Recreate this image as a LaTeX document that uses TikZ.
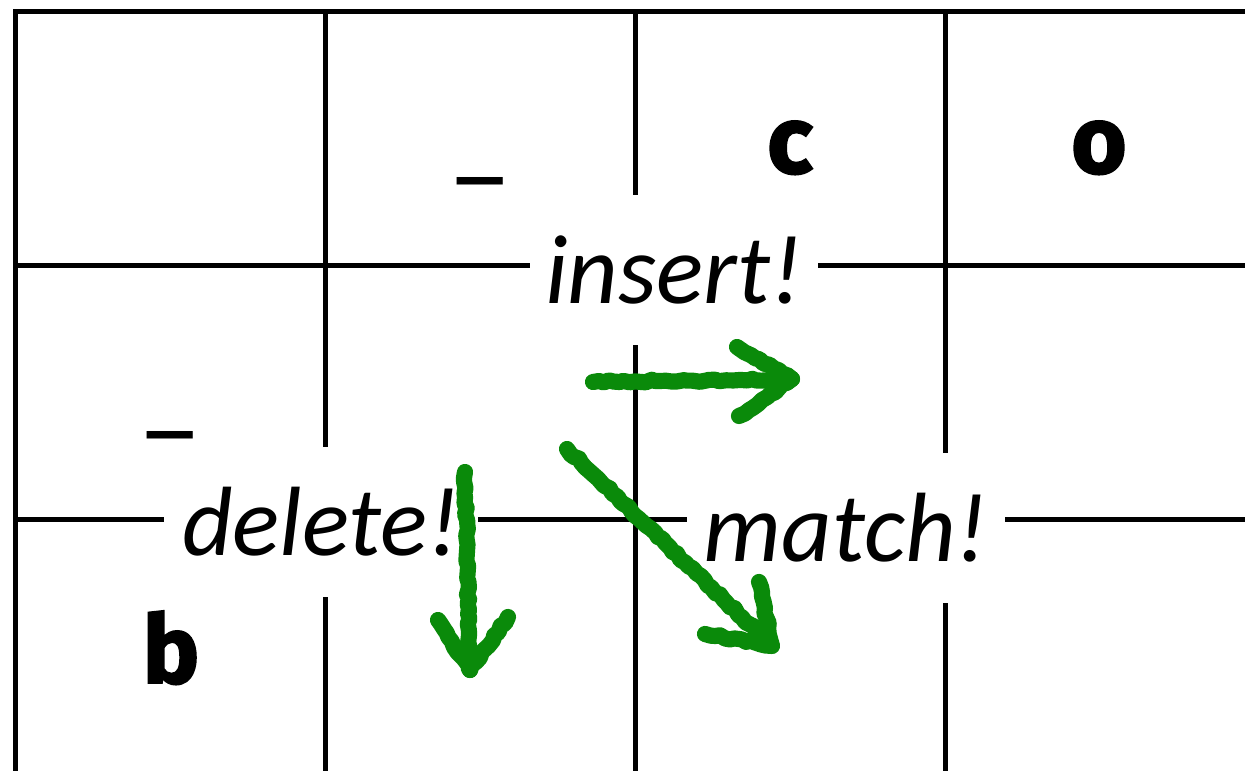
\documentclass[tikz,border=0pt]{standalone}
\usepackage{fontspec}
\usetikzlibrary{arrows.meta, positioning, decorations.pathmorphing}
\newfontfamily\oplabelfont{Carlito}
\newfontfamily\cellfont{Fira Sans}[BoldFeatures={FakeBold=2}]
\definecolor{chalkgreen}{HTML}{0A8A0A}
\tikzset{
  gridline/.style={line width=1.45pt, black, line cap=rect},
  cell/.style={anchor=base, inner sep=0pt,
    font=\cellfont\bfseries\fontsize{27}{27}\selectfont},
  blank/.style={cell, font=\cellfont\mdseries\fontsize{27}{27}\selectfont},
  opbox/.style={rectangle, fill=white, inner sep=0pt,
    minimum width=#1, minimum height=1.5cm,
    font=\oplabelfont\itshape\fontsize{28}{28}\selectfont},
  chalk/.style={draw=chalkgreen, line width=4.6pt, line cap=round,
    line join=round, decorate,
    decoration={random steps, segment length=1.5pt, amplitude=0.4pt}}
}

\begin{document}
\begin{tikzpicture}[x=0.01cm, y=-0.01cm]
  \useasboundingbox (0,0) rectangle (1245,771);
  \clip (0,0) rectangle (1245,771);
  % table lines
  \foreach \x in {15.5,325.5,635.5,945.5}{%
    \draw[gridline] (\x,11.5) -- (\x,800);}
  \foreach \y in {11.5,265.5,519.5}{%
    \draw[gridline] (15.5,\y) -- (1270,\y);}
  % header letters
  \node[blank] (top1) at (480,172) {\_};
  \node[cell] (top2) at (790,173) {c};
  \node[cell] (top3) at (1099,173) {o};
  \node[blank] (side1) at (170,426) {\_};
  \node[cell] (side2) at (171,683) {b};
  % operations
  \node[opbox=2.88cm] (ins) at (674,270) {insert!};
  \node[opbox=3.13cm] (del) at (321,522) {delete!};
  \node[opbox=3.18cm] (mat) at (846,528) {match!};
  % chalk arrows
  \coordinate (insA) at (593,382);
  \coordinate (insB) at (792,379);
  \coordinate (insL) at (737,347);
  \coordinate (insR) at (739,416);
  \coordinate (delA) at (465,472);
  \coordinate (delB) at (470,670);
  \coordinate (delL) at (438,620);
  \coordinate (delR) at (508,617);
  \coordinate (matA) at (567,449);
  \coordinate (matB) at (772,646);
  \coordinate (matL) at (759,582);
  \coordinate (matR) at (705,634);
  \draw[chalk] (insA) -- (insB);
  \draw[chalk] (insL) -- (insB) -- (insR);
  \draw[chalk] (delA) -- (delB);
  \draw[chalk] (delL) -- (delB) -- (delR);
  \draw[chalk] (matA) -- (matB);
  \draw[chalk] (matL) -- (matB) -- (matR);
\end{tikzpicture}
\end{document}
